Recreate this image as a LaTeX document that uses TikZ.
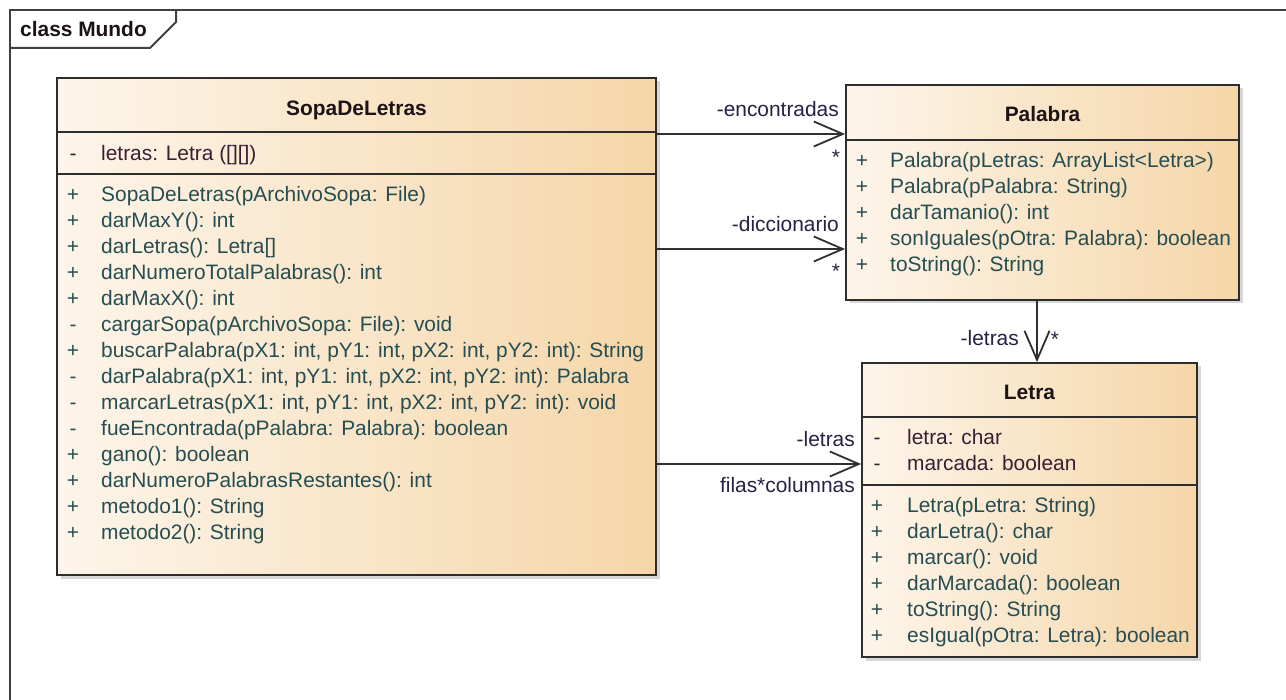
\documentclass[tikz,border=0pt]{standalone}
\usepackage{fontspec}
\setmainfont{Liberation Sans}
\usetikzlibrary{arrows.meta,shadows,calc}
\definecolor{fillL}{RGB}{253,245,234}
\definecolor{fillR}{RGB}{245,214,168}
\definecolor{boxline}{RGB}{45,45,45}
\definecolor{opC}{RGB}{38,78,82}
\definecolor{attC}{RGB}{58,30,52}
\definecolor{labC}{RGB}{40,32,70}
\definecolor{titleC}{RGB}{28,20,20}
\definecolor{frameC}{RGB}{64,64,64}
\definecolor{lineC}{RGB}{48,48,48}
\begin{document}
\begin{tikzpicture}[x=1pt,y=-1pt,
  font=\fontsize{20.9}{25}\selectfont,
  classbox/.style={draw=boxline, line width=1.8pt, left color=fillL, right color=fillR,
    inner sep=0pt, drop shadow={shadow xshift=3.5pt, shadow yshift=-3.5pt, fill=black!16, opacity=1}},
  sepline/.style={draw=boxline, line width=1.8pt},
  frameline/.style={draw=frameC, line width=2pt},
  assoc/.style={draw=lineC, line width=1.8pt, -{Straight Barb[length=29pt,width=25pt]}},
  ctitle/.style={anchor=base, inner sep=0pt, text=titleC, font=\fontsize{20.9}{25}\selectfont\bfseries},
  row/.style={anchor=base west, inner sep=0pt},
  vis/.style={anchor=base, inner sep=0pt},
  lab/.style={anchor=base east, inner sep=0pt, text=labC},
  mult/.style={anchor=base, inner sep=0pt, text=labC}]
\useasboundingbox (0,0) rectangle (1286,700);
\fill[white] (0,0) rectangle (1286,700);

% frame
\draw[frameline] (1292,10) -- (10,10) -- (10,706);
\draw[frameline] (10,48) -- (150,48) -- (176,22) -- (176,10);
\node[anchor=base west, inner sep=0pt, text=titleC, font=\fontsize{20.9}{25}\selectfont\bfseries] (frametitle) at (20,37) {class Mundo};

% class boxes
\node[classbox, minimum width=599pt, minimum height=497pt] (sopa) at (356.5,326.5) {};
\node[classbox, minimum width=393pt, minimum height=215pt] (palabra) at (1042.5,192.5) {};
\node[classbox, minimum width=335pt, minimum height=294pt] (letra) at (1029.5,510) {};

% separators
\draw[sepline] (57,132) -- (656,132);
\draw[sepline] (57,174) -- (656,174);
\draw[sepline] (846,140) -- (1239,140);
\draw[sepline] (862,417) -- (1197,417);
\draw[sepline] (862,485) -- (1197,485);

% titles
\node[ctitle] (sopat) at (356.5,116) {SopaDeLetras};
\node[ctitle] (palabrat) at (1042.5,122) {Palabra};
\node[ctitle] (letrat) at (1029.5,400) {Letra};

% SopaDeLetras attribute
\node[vis, text=attC] (sopaav) at (73,160.5) {-};
\node[row, text=attC] (sopaa) at (101,160.5) {letras: Letra ([][])};

% SopaDeLetras operations
\foreach [count=\i from 0] \v/\t in {
  +/{SopaDeLetras(pArchivoSopa: File)},
  +/{darMaxY(): int},
  +/{darLetras(): Letra[]},
  +/{darNumeroTotalPalabras(): int},
  +/{darMaxX(): int},
  -/{cargarSopa(pArchivoSopa: File): void},
  +/{buscarPalabra(pX1: int, pY1: int, pX2: int, pY2: int): String},
  -/{darPalabra(pX1: int, pY1: int, pX2: int, pY2: int): Palabra},
  -/{marcarLetras(pX1: int, pY1: int, pX2: int, pY2: int): void},
  -/{fueEncontrada(pPalabra: Palabra): boolean},
  +/{gano(): boolean},
  +/{darNumeroPalabrasRestantes(): int},
  +/{metodo1(): String},
  +/{metodo2(): String}} {
  \node[vis, text=opC] (sopamv\i) at (73,{201.5+26*\i}) {\v};
  \node[row, text=opC] (sopam\i) at (101,{201.5+26*\i}) {\t};
}

% Palabra operations
\foreach [count=\i from 0] \v/\t in {
  +/{Palabra(pLetras: ArrayList<Letra>)},
  +/{Palabra(pPalabra: String)},
  +/{darTamanio(): int},
  +/{sonIguales(pOtra: Palabra): boolean},
  +/{toString(): String}} {
  \node[vis, text=opC] (palmv\i) at (862,{167.5+26*\i}) {\v};
  \node[row, text=opC] (palm\i) at (890,{167.5+26*\i}) {\t};
}

% Letra attributes
\foreach [count=\i from 0] \v/\t in {
  -/{letra: char},
  -/{marcada: boolean}} {
  \node[vis, text=attC] (letav\i) at (877,{444.5+26*\i}) {\v};
  \node[row, text=attC] (leta\i) at (907,{444.5+26*\i}) {\t};
}

% Letra operations
\foreach [count=\i from 0] \v/\t in {
  +/{Letra(pLetra: String)},
  +/{darLetra(): char},
  +/{marcar(): void},
  +/{darMarcada(): boolean},
  +/{toString(): String},
  +/{esIgual(pOtra: Letra): boolean}} {
  \node[vis, text=opC] (letmv\i) at (877,{512+26*\i}) {\v};
  \node[row, text=opC] (letm\i) at (907,{512+26*\i}) {\t};
}

% connectors
\coordinate (ya) at (0,134);
\coordinate (yb) at (0,249);
\coordinate (yc) at (0,464);
\coordinate (xd) at (1037,0);
\draw[assoc] (sopa.east |- ya) -- (palabra.west |- ya);
\draw[assoc] (sopa.east |- yb) -- (palabra.west |- yb);
\draw[assoc] (sopa.east |- yc) -- (letra.west |- yc);
\draw[assoc] (palabra.south -| xd) -- (letra.north -| xd);

% connector labels
\node[lab] (l1) at (839,117) {-encontradas};
\node[mult] (m1) at (836,165) {*};
\node[lab] (l2) at (839,232) {-diccionario};
\node[mult] (m2) at (836,279) {*};
\node[lab] (l3) at (1019,346) {-letras};
\node[mult] (m3) at (1055,347) {*};
\node[lab] (l4) at (855,447) {-letras};
\node[lab] (m4) at (855,493) {filas*columnas};
\end{tikzpicture}
\end{document}
